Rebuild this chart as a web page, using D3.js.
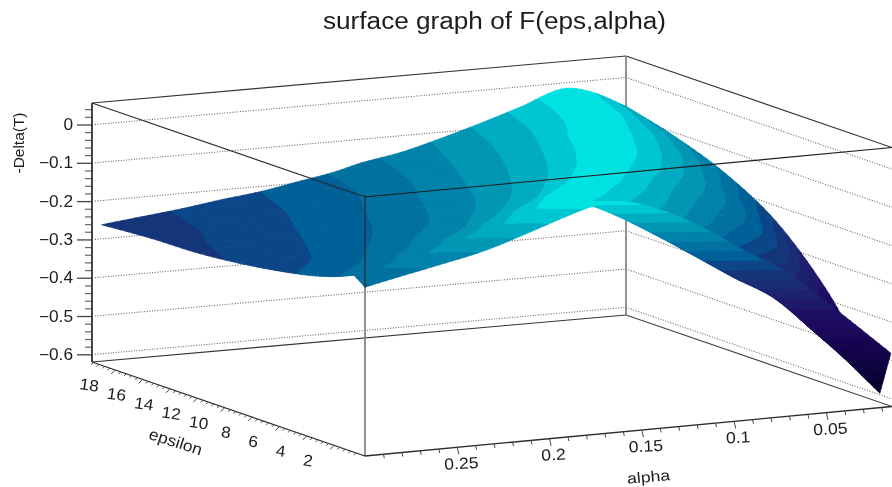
<!DOCTYPE html>
<html><head><meta charset="utf-8">
<style>html,body{margin:0;padding:0;background:#fff}svg{display:block;filter:blur(0.35px)}
text{font-family:"Liberation Sans",Arial,sans-serif;fill:#1c1c1c}</style>
<script src="https://cdn.jsdelivr.net/npm/d3@7/dist/d3.min.js"></script>
</head><body><svg id="c" width="892" height="487"></svg>
<script>
// ---------- data ----------
const titleText = "surface graph of F(eps,alpha)";
const alphaValues = [0.3,0.2783,0.2567,0.235,0.2133,0.1917,0.1754,0.1592,0.1375,0.1158,0.0942,0.0725,0.0508,0.0346,0.0151];
const epsValues = [-0.26,0.54,2.2,4.5,8.1,11.8,15.4,19];
const ridgeAlpha = [0.1673,0.1889,0.1673,0.1402,0.1066,0.0828,0.0617,0.0454];
const zEps0 = [-0.179,-0.157,-0.136,-0.113,-0.08,-0.045,-0.023,-0.02,-0.055,-0.11,-0.178,-0.24,-0.328,-0.396,-0.48];
const zEps1 = [-0.158,-0.14,-0.114,-0.082,-0.052,-0.018,-0.028,-0.063,-0.124,-0.19,-0.257,-0.32,-0.418,-0.494,-0.594];
const zEps2 = [-0.182,-0.162,-0.137,-0.112,-0.079,-0.042,-0.016,-0.016,-0.059,-0.104,-0.16,-0.226,-0.287,-0.37,-0.49];
const zEps3 = [-0.204,-0.188,-0.166,-0.142,-0.122,-0.089,-0.067,-0.036,-0.012,-0.05,-0.102,-0.148,-0.2,-0.265,-0.37];
const zEps4 = [-0.226,-0.214,-0.195,-0.177,-0.157,-0.134,-0.114,-0.09,-0.057,-0.02,-0.025,-0.071,-0.126,-0.176,-0.24];
const zEps5 = [-0.24,-0.225,-0.212,-0.196,-0.179,-0.158,-0.14,-0.121,-0.093,-0.062,-0.022,-0.022,-0.063,-0.105,-0.16];
const zEps6 = [-0.244,-0.237,-0.222,-0.21,-0.195,-0.179,-0.163,-0.144,-0.117,-0.09,-0.06,-0.024,-0.023,-0.06,-0.11];
const zEps7 = [-0.253,-0.242,-0.231,-0.217,-0.205,-0.187,-0.174,-0.155,-0.137,-0.11,-0.08,-0.047,-0.011,-0.026,-0.074];
const zRows = [zEps0,zEps1,zEps2,zEps3,zEps4,zEps5,zEps6,zEps7];
const zLevels = [-0.5556,-0.5264,-0.4972,-0.468,-0.4388,-0.4096,-0.3804,-0.3512,-0.322,-0.2928,-0.2636,-0.2344,-0.2052,-0.176,-0.1468,-0.1176,-0.0884,-0.0592,-0.03];
const bandColors = ["#06022e","#0a0338","#0e0440","#120548","#160650","#1a0858","#1e0a60","#1e1066","#1e1a6a","#1c2270","#1a2c74","#15357a","#0b4788","#006098","#0071a0","#0083aa","#0096b4","#00acc2","#00c6d2","#00e2e2"];
const zMajor = [0,-0.1,-0.2,-0.3,-0.4,-0.5,-0.6];
const zMinor = [0.04,0.02,-0.02,-0.04,-0.06,-0.08,-0.12,-0.14,-0.16,-0.18,-0.22,-0.24,-0.26,-0.28,-0.32,-0.34,-0.36,-0.38,-0.42,-0.44,-0.46,-0.48,-0.52,-0.54,-0.56,-0.58];
const epsMajor = [2,4,6,8,10,12,14,16,18];
const alphaMajor = [0.05,0.1,0.15,0.2,0.25];
const alphaLabels = ["0.05","0.1","0.15","0.2","0.25"];

// ---------- layout ----------
const A=[92,362], B=[365,456], C=[892,406.5], D=[626,315];
const boxH=259;
const alphaX=d3.scaleLinear().domain([0.3,0.015]).range([0,526]);
const alphaY=d3.scaleLinear().domain([0.3,0.015]).range([0,-49.2]);
const epsX=d3.scaleLinear().domain([-0.26,19.7]).range([0,-273]);
const epsY=d3.scaleLinear().domain([-0.26,19.7]).range([0,-94]);
const zLift=d3.scaleLinear().domain([-0.62,0]).range([0,-237.5]);
const project=(al,ep,z)=>[B[0]+alphaX(al)+epsX(ep), B[1]+alphaY(al)+epsY(ep)+zLift(z)];

const svg=d3.select("#c");
const gBack=svg.append("g"), gSurf=svg.append("g"), gFront=svg.append("g"), gText=svg.append("g");
const line=(g,p,q,stroke,w,dash)=>g.append("line").attr("x1",p[0]).attr("y1",p[1]).attr("x2",q[0]).attr("y2",q[1])
  .attr("stroke",stroke).attr("stroke-width",w).attr("stroke-dasharray",dash||null);
const up=(p,l)=>[p[0],p[1]+l];
const widen=(sel,f)=>sel.each(function(){this.setAttribute("textLength",(this.getComputedTextLength()*f).toFixed(1));this.setAttribute("lengthAdjust","spacingAndGlyphs");});

// back walls
zMajor.forEach(z=>{
  const l=zLift(z);
  const pa=up(A,l), pd=up(D,l), pc=up(C,l);
  line(gBack,[pa[0]+3,pa[1]],pd,"#666",1.1,"1 1.6");
  line(gBack,pd,pc,"#666",1.1,"1 1.6");
});
line(gBack,up(A,-boxH),up(D,-boxH),"#333",1.1);
line(gBack,up(D,-boxH),up(C,-boxH),"#333",1.1);
line(gBack,A,D,"#333",1.1);
line(gBack,D,C,"#444",1.1);
line(gBack,D,up(D,-boxH),"#808080",1.7);

// ---------- surface: smooth reading of the grid along the ridge, cut into z bands ----------
const N=alphaValues.length, M=epsValues.length;
function slope(xs,vs,i,sharpFirst){
  if(sharpFirst && i===1) return (vs[2]-vs[1])/(xs[2]-xs[1]);
  if(i===0) return (vs[1]-vs[0])/(xs[1]-xs[0]);
  if(i===xs.length-1) return (vs[i]-vs[i-1])/(xs[i]-xs[i-1]);
  return (vs[i+1]-vs[i-1])/(xs[i+1]-xs[i-1]);
}
function herm(xs,vs,x,sharpFirst){
  let i=d3.bisectRight(xs,x,0,xs.length)-1;
  i=Math.max(0,Math.min(xs.length-2,i));
  const h=xs[i+1]-xs[i], t=(x-xs[i])/h, m0=slope(xs,vs,i,sharpFirst)*h, m1=slope(xs,vs,i+1,sharpFirst)*h;
  const t2=t*t,t3=t2*t;
  return (2*t3-3*t2+1)*vs[i]+(t3-2*t2+t)*m0+(-2*t3+3*t2)*vs[i+1]+(t3-t2)*m1;
}
const alphaAsc=alphaValues.slice().reverse();
const rowsAsc=zRows.map(r=>r.slice().reverse());
const aMax=alphaValues[0], aMin=alphaValues[N-1];
function byEps(vs,ep){
  if(ep<=epsValues[1]){
    const t=(ep-epsValues[0])/(epsValues[1]-epsValues[0]);
    return vs[0]+(vs[1]-vs[0])*t;
  }
  return herm(epsValues,vs,ep,true);
}
function zAt(al,ep){
  const R=byEps(ridgeAlpha,ep);
  const vals=rowsAsc.map((row,r)=>{
    const Rr=ridgeAlpha[r];
    const ar= al>=R ? Rr+(al-R)/(aMax-R)*(aMax-Rr) : Rr-(R-al)/(R-aMin)*(Rr-aMin);
    return herm(alphaAsc,row,ar,false);
  });
  return byEps(vals,ep);
}
function clip(poly,lev,keepAbove){
  const out=[];
  for(let i=0;i<poly.length;i++){
    const p=poly[i],q=poly[(i+1)%poly.length];
    const pi=keepAbove?p[2]>=lev:p[2]<lev, qi=keepAbove?q[2]>=lev:q[2]<lev;
    if(pi) out.push(p);
    if(pi!==qi){const t=(lev-p[2])/(q[2]-p[2]); out.push([p[0]+(q[0]-p[0])*t,p[1]+(q[1]-p[1])*t,lev]);}
  }
  return out;
}
const SUBA=6, SUBE=8;
const edges=[-Infinity,...zLevels,Infinity];
const cells=[];
for(let r=M-2;r>=0;r--){
  for(let c=N-2;c>=0;c--){
    const pts=[];
    for(let i=0;i<=SUBA;i++){pts[i]=[];for(let j=0;j<=SUBE;j++){
      const al=alphaValues[c]+(alphaValues[c+1]-alphaValues[c])*i/SUBA;
      const ep=epsValues[r]+(epsValues[r+1]-epsValues[r])*j/SUBE;
      pts[i][j]=[al,ep,zAt(al,ep)];
    }}
    const paths=new Map();
    const addTri=tri=>{
      const zs=tri.map(p=>p[2]);
      const zlo=d3.min(zs),zhi=d3.max(zs);
      for(let b=0;b<bandColors.length;b++){
        const lo=edges[b],hi=edges[b+1];
        if(zhi<lo||zlo>=hi) continue;
        let poly=tri;
        if(lo>-Infinity) poly=clip(poly,lo,true);
        if(hi<Infinity&&poly.length) poly=clip(poly,hi,false);
        if(poly.length<3) continue;
        const d=poly.map(p=>project(p[0],p[1],p[2]).map(v=>v.toFixed(2)).join(",")).join("L");
        const col=bandColors[b];
        paths.set(col,(paths.get(col)||"")+"M"+d+"Z");
      }
    };
    for(let i=SUBA-1;i>=0;i--)for(let j=SUBE-1;j>=0;j--){
      addTri([pts[i][j],pts[i+1][j],pts[i+1][j+1]]);
      addTri([pts[i][j],pts[i+1][j+1],pts[i][j+1]]);
    }
    paths.forEach((d,col)=>cells.push({d,col}));
  }
}
gSurf.selectAll("path").data(cells).join("path")
  .attr("d",d=>d.d).attr("fill",d=>d.col).attr("stroke",d=>d.col).attr("stroke-width",0.7).attr("stroke-linejoin","round");

// front box lines
line(gFront,up(A,-boxH),up(B,-boxH),"#2a2a2a",1.1);
line(gFront,up(B,-boxH),up(C,-boxH),"#1c1c1c",1.1);
line(gFront,B,[B[0],B[1]-168],"#808080",1.7);
line(gFront,[B[0],B[1]-168],up(B,-261),"#1f2f3a",1.4);
line(gFront,A,B,"#2a2a2a",1.3);
line(gFront,B,C,"#2a2a2a",1.3);

// z axis
const zAxisScale=d3.scaleLinear().domain([-0.62,0]).range([A[1],A[1]-237.5]);
gFront.append("g").attr("transform",`translate(${A[0]},0)`)
  .call(d3.axisLeft(zAxisScale).tickValues(zMinor).tickSize(7).tickFormat("").tickSizeOuter(0))
  .call(g=>{g.selectAll("line").attr("stroke","#666").attr("stroke-width",1.2);g.select(".domain").remove();});
const zAx=gFront.append("g").attr("transform",`translate(${A[0]},0)`)
  .call(d3.axisLeft(zAxisScale).tickValues(zMajor).tickSize(15).tickPadding(4).tickFormat(v=>v===0?"0":"\u2212"+Math.abs(v).toFixed(1)).tickSizeOuter(0));
zAx.select(".domain").remove();
zAx.selectAll("line").attr("stroke","#444").attr("stroke-width",1.3);
zAx.selectAll("text").attr("font-size",16).attr("fill","#1c1c1c").attr("font-family",null).call(widen,1.08);
line(gFront,A,up(A,-boxH),"#3a3a3a",1.9);

// eps axis
const epsPt=e=>[B[0]+epsX(e),B[1]+epsY(e)];
d3.range(0.4,19.7,0.4).forEach(e=>{
  const maj=Math.abs(e/2-Math.round(e/2))<1e-6, p=epsPt(e), s=maj?1:0.55;
  line(gFront,p,[p[0]-4*s,p[1]+4*s],"#444",1);
});
gText.selectAll(".eps").data(epsMajor).join("text").attr("class","eps")
  .attr("font-size",16).attr("text-anchor","middle").attr("dominant-baseline","central")
  .attr("transform",e=>{const p=epsPt(e);return `translate(${p[0]-26},${p[1]+15}) rotate(8)`;})
  .text(e=>e).call(widen,1.08);

// alpha axis
const alphaPt=a=>[B[0]+alphaX(a),B[1]+alphaY(a)];
d3.range(0.02,0.295,0.01).forEach(a=>{
  const maj=Math.abs(a/0.05-Math.round(a/0.05))<1e-6, p=alphaPt(a), l=maj?7:4;
  line(gFront,p,[p[0]+l*0.22,p[1]+l],"#444",1);
});
gText.selectAll(".alpha").data(alphaMajor).join("text").attr("class","alpha")
  .attr("font-size",16).attr("text-anchor","middle").attr("dominant-baseline","central")
  .attr("transform",a=>{const p=alphaPt(a);return `translate(${p[0]+4},${p[1]+16}) rotate(-3)`;})
  .text((a,i)=>alphaLabels[i]).call(widen,1.1);

// titles
gText.append("text").attr("x",494.5).attr("y",28.5).attr("text-anchor","middle").attr("font-size",23).text(titleText)
  .attr("textLength",343).attr("lengthAdjust","spacingAndGlyphs");
gText.append("text").attr("font-size",15).attr("text-anchor","middle").attr("transform","translate(24,143) rotate(-90)").text("-Delta(T)")
  .attr("textLength",61).attr("lengthAdjust","spacingAndGlyphs");
gText.append("text").attr("font-size",16).attr("text-anchor","middle").attr("transform","translate(174,447) rotate(18)").text("epsilon")
  .attr("textLength",55).attr("lengthAdjust","spacingAndGlyphs");
gText.append("text").attr("font-size",15).attr("text-anchor","middle").attr("transform","translate(649,482) rotate(-5)").text("alpha")
  .attr("textLength",43).attr("lengthAdjust","spacingAndGlyphs");
</script></body></html>
